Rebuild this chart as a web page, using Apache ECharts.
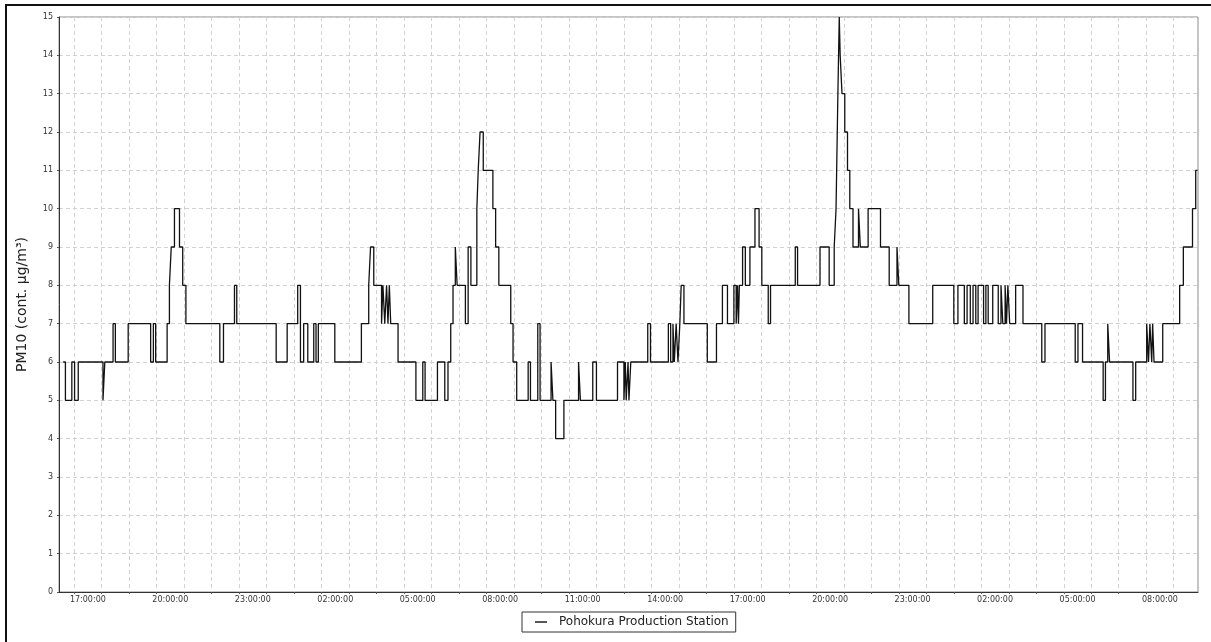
<!DOCTYPE html>
<html>
<head>
<meta charset="utf-8">
<script src="https://cdn.jsdelivr.net/npm/echarts@6/dist/echarts.min.js"></script>
<style>
  html, body { margin: 0; padding: 0; background: #fff; }
  #main { position: absolute; left: 0; top: 0; width: 1211px; height: 642px; }
  #frame { position: absolute; left: 5px; top: 4px; width: 1220px; height: 660px;
           border-left: 2px solid #111; border-top: 2px solid #111; pointer-events: none; }
</style>
</head>
<body>
<div id="main"></div>
<div id="frame"></div>
<script>
// minutes since 17:00 on the first day; each value holds until the next time
const changeMinutes = [
  -54, -49, -35, -29, -21, 33, 37, 55, 60, 88, 137, 143, 148, 173, 178, 182, 189, 200, 207, 214,
  288, 296, 320, 325, 411, 435, 458, 464, 471, 480, 493, 498, 503, 539, 597, 613, 617, 624, 641, 644,
  648, 652, 655, 658, 661, 677, 716, 731, 736, 763, 779, 786, 792, 797, 802, 806, 824, 830, 836, 849,
  852, 856, 863, 884, 890, 897, 923, 928, 936, 961, 966, 982, 987, 1011, 1015, 1021, 1039, 1071, 1075, 1102,
  1110, 1156, 1170, 1173, 1175, 1179, 1181, 1185, 1222, 1228, 1267, 1272, 1277, 1280, 1284, 1288, 1292, 1295, 1301, 1352,
  1372, 1385, 1396, 1410, 1415, 1418, 1420, 1422, 1429, 1435, 1445, 1456, 1465, 1471, 1485, 1490, 1544, 1549, 1598, 1618,
  1629, 1633, 1637, 1640, 1642, 1646, 1652, 1658, 1663, 1670, 1682, 1686, 1703, 1730, 1749, 1766, 1770, 1792, 1844, 1890,
  1899, 1913, 1919, 1926, 1932, 1938, 1943, 1955, 1960, 1965, 1975, 1987, 1993, 1997, 2002, 2005, 2008, 2012, 2025, 2041,
  2082, 2089, 2155, 2161, 2171, 2216, 2221, 2226, 2230, 2281, 2287, 2311, 2315, 2318, 2322, 2324, 2327, 2346, 2383, 2391,
  2411, 2418, 2422
];
const pm10Values = [
  6, 5, 6, 5, 6, 5, 6, 7, 6, 7, 6, 7, 6, 7, 8, 9, 10, 9, 8, 7,
  6, 7, 8, 7, 6, 7, 8, 6, 7, 6, 7, 6, 7, 6, 7, 8, 9, 8, 7, 8,
  7, 8, 7, 8, 7, 6, 5, 6, 5, 6, 5, 6, 7, 8, 9, 8, 7, 9, 8, 10,
  11, 12, 11, 10, 9, 8, 7, 6, 5, 6, 5, 7, 5, 6, 5, 4, 5, 6, 5, 6,
  5, 6, 5, 6, 5, 6, 5, 6, 7, 6, 7, 6, 7, 6, 7, 6, 7, 8, 7, 6,
  7, 8, 7, 8, 7, 8, 7, 8, 9, 8, 9, 10, 9, 8, 7, 8, 9, 8, 9, 8,
  9, 10, 13, 15, 14, 13, 12, 11, 10, 9, 10, 9, 10, 9, 8, 9, 8, 7, 8, 7,
  8, 7, 8, 7, 8, 7, 8, 7, 8, 7, 8, 7, 8, 7, 8, 7, 8, 7, 8, 7,
  6, 7, 6, 7, 6, 5, 6, 7, 6, 5, 6, 7, 6, 7, 6, 7, 6, 7, 8, 9,
  10, 11, 11
];
// x tick labels (17:00:00 ... 08:00:00), minutes since 17:00
const labelMinutes = [0, 180, 360, 540, 720, 900, 1080, 1260, 1440, 1620, 1800, 1980, 2160, 2340];
const X_MIN = -63;
const X_MAX = 2423;

// dashed vertical grid sits on the half hours
const gridMinutes = [];
for (let m = -30; m < X_MAX; m += 60) gridMinutes.push(m);

const seriesData = changeMinutes.map((m, i) => [m, pm10Values[i]]);

function timeLabel(v) {
  const h = (17 + Math.round(v / 60)) % 24;
  return (h < 10 ? '0' + h : '' + h) + ':00:00';
}

const chart = echarts.init(document.getElementById('main'), null, { renderer: 'canvas' });

const option = {
  animation: false,
  backgroundColor: '#fff',
  textStyle: { fontFamily: 'DejaVu Sans, Verdana, sans-serif' },
  grid: {
    left: 59, top: 17, right: 13, bottom: 50,
    show: true, borderColor: '#8a8a8a', borderWidth: 1
  },
  legend: {
    left: 522, top: 612,
    padding: [4, 7, 4, 13],
    borderColor: '#333', borderWidth: 1,
    icon: 'rect',
    itemWidth: 12, itemHeight: 1.4,
    itemStyle: { color: '#111' },
    textStyle: { fontSize: 12, color: '#222', padding: [0, 0, 0, 7] },
    data: ['Pohokura Production Station']
  },
  xAxis: {
    type: 'value',
    min: X_MIN,
    max: X_MAX,
    axisLine: { onZero: false, lineStyle: { color: '#333', width: 1 } },
    axisTick: { show: true, length: 2, customValues: gridMinutes, lineStyle: { color: '#555' } },
    axisLabel: {
      customValues: labelMinutes,
      formatter: timeLabel,
      fontSize: 8, color: '#333', margin: 4
    },
    splitLine: { show: true, lineStyle: { type: [4, 3], color: '#d2d2d2', width: 1 } }
  },
  yAxis: {
    type: 'value',
    min: 0, max: 15, interval: 1,
    name: 'PM10 (cont. µg/m³)',
    nameLocation: 'middle',
    nameGap: 30,
    nameTextStyle: { fontSize: 14, color: '#222' },
    axisLine: { show: true, onZero: false, lineStyle: { color: '#333', width: 1 } },
    axisTick: { show: true, length: 2, lineStyle: { color: '#555' } },
    axisLabel: { fontSize: 8, color: '#333', margin: 6 },
    splitLine: { show: true, lineStyle: { type: [4, 3], color: '#d2d2d2', width: 1 } }
  },
  series: [{
    name: 'Pohokura Production Station',
    type: 'line',
    step: 'end',
    symbol: 'none',
    lineStyle: { color: '#111', width: 1.3 },
    itemStyle: { color: '#111' },
    data: seriesData
  }]
};

chart.setOption(option);
</script>
</body>
</html>
